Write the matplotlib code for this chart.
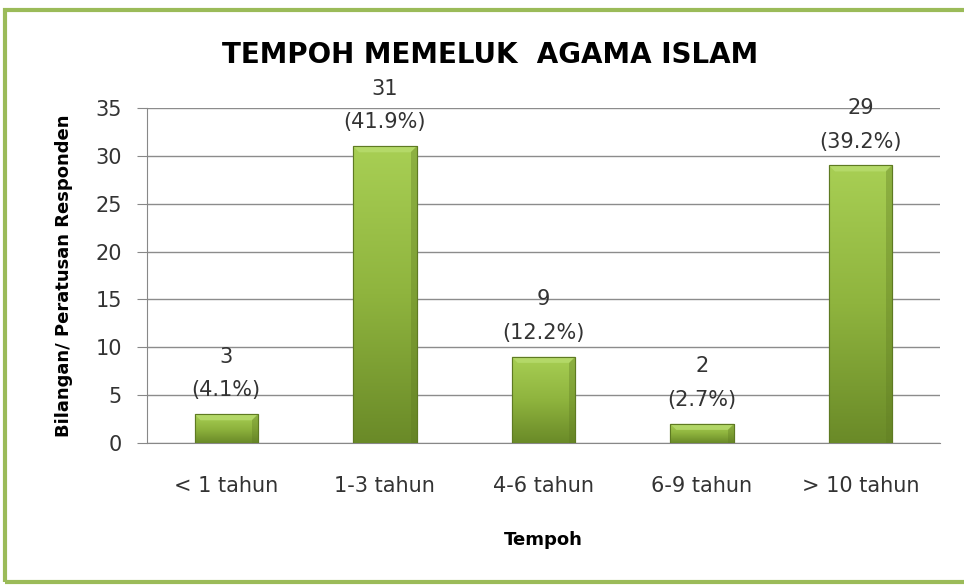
import matplotlib.pyplot as plt
import numpy as np
from matplotlib.patches import Rectangle, Polygon
from matplotlib.colors import LinearSegmentedColormap

categories = ['< 1 tahun', '1-3 tahun', '4-6 tahun', '6-9 tahun', '> 10 tahun']
counts = [3, 31, 9, 2, 29]
percents = [4.1, 41.9, 12.2, 2.7, 39.2]

plt.rcParams['font.family'] = ['DejaVu Sans']

fig = plt.figure(figsize=(9.64, 5.85), dpi=100)
ax = fig.add_axes([0.1525, 0.2427, 0.8225, 0.5727])

x = np.arange(len(categories))
bars = ax.bar(x, counts, width=0.4, color='#8DB13C', edgecolor='#5E7A22', linewidth=0.8, zorder=3)

ax.set_xlim(-0.5, 4.5)
ax.set_ylim(0, 35)

# vertical gradient on each bar (light top, darker bottom) plus a small bevel at the top
grad = np.linspace(1, 0, 256).reshape(-1, 1)
cmap = LinearSegmentedColormap.from_list('g', ['#6A8A28', '#8FB43E', '#A8CF54'])
bx = 6 / 158.6   # bevel size, 6 px in x data units
by = 6 * 35 / 335.0  # 6 px in y data units
for b in bars:
    x0, y0 = b.get_x(), b.get_y()
    w, h = b.get_width(), b.get_height()
    im = ax.imshow(grad, cmap=cmap, extent=[x0, x0 + w, y0, y0 + h], aspect='auto', zorder=3.5)
    im.set_clip_path(b)
    t = y0 + h
    ax.add_patch(Polygon([(x0, t), (x0 + w, t), (x0 + w - bx, t - by), (x0 + bx, t - by)],
                         closed=True, facecolor='#B8DC6E', edgecolor='none', alpha=0.8, zorder=3.8))
    ax.add_patch(Polygon([(x0 + w, t), (x0 + w, y0), (x0 + w - bx, y0), (x0 + w - bx, t - by)],
                         closed=True, facecolor='#5E7A22', edgecolor='none', alpha=0.35, zorder=3.8))
    ax.add_patch(Rectangle((x0, y0), w, h, fill=False, edgecolor='#5E7A22', linewidth=0.8, zorder=4))

for i in range(len(categories)):
    ax.annotate('%d\n(%.1f%%)' % (counts[i], percents[i]), (x[i], counts[i]),
                xytext=(0, 10), textcoords='offset points', ha='center', va='bottom',
                fontsize=15, color='#333333', linespacing=1.85)

ax.set_yticks(range(0, 36, 5))
ax.set_xticks(x)
ax.set_xticklabels(categories)
ax.tick_params(axis='y', length=7, color='#888888', labelsize=15, labelcolor='#333333', pad=11)
ax.tick_params(axis='x', length=0, labelsize=15, labelcolor='#333333', pad=24)
ax.grid(axis='y', color='#8C8C8C', linewidth=1, zorder=0)
ax.set_axisbelow(True)
for s in ['top', 'right']:
    ax.spines[s].set_visible(False)
ax.spines['left'].set_color('#888888')
ax.spines['bottom'].set_color('#888888')

ax.set_ylabel('Bilangan/ Peratusan Responden', fontsize=13, fontweight='bold', labelpad=16)
ax.set_xlabel('Tempoh', fontsize=13, fontweight='bold', labelpad=25)
fig.text(0.508, 0.906, 'TEMPOH MEMELUK  AGAMA ISLAM', ha='center', va='center',
         fontsize=20, fontweight='bold')

# green frame
fig.patches.append(Rectangle((5 / 964, 3 / 585), 1.2, 1 - 13 / 585, transform=fig.transFigure,
                             fill=False, edgecolor='#9BBB59', linewidth=3))

fig.savefig('out.png', dpi=100)
